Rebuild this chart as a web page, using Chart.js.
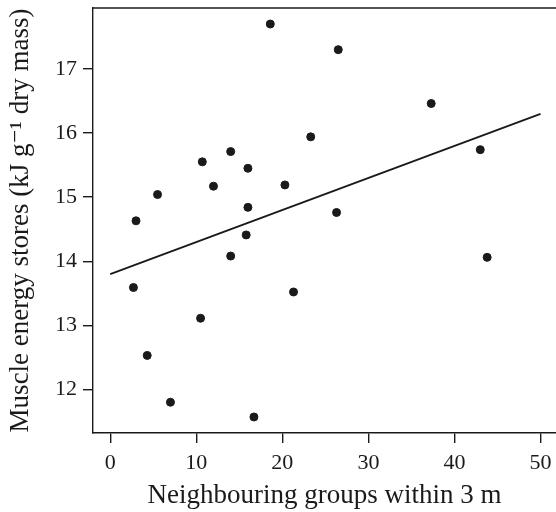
<!DOCTYPE html>
<html>
<head>
<meta charset="utf-8">
<script src="https://cdn.jsdelivr.net/npm/chart.js@4/dist/chart.umd.min.js"></script>
<style>
  html, body { margin: 0; padding: 0; background: #fff; }
  #wrap { width: 556px; height: 512px; }
</style>
</head>
<body>
<div id="wrap"><canvas id="chart" width="556" height="512"></canvas></div>
<script>
// neighbouring groups within 3 m (x) and muscle energy stores (y)
const groupsX = [18.6, 26.5, 37.3, 23.3, 43.0, 10.7, 14.0, 16.0, 3.0, 5.5, 12.0, 20.3, 16.0, 26.3, 15.8, 14.0, 43.8, 2.7, 21.3, 10.5, 4.3, 7.0, 16.7];
const energyY = [17.70, 17.30, 16.46, 15.94, 15.74, 15.55, 15.71, 15.45, 14.63, 15.04, 15.17, 15.19, 14.84, 14.76, 14.41, 14.08, 14.06, 13.59, 13.52, 13.11, 12.53, 11.80, 11.57];

// fitted regression line end points
const fitX = [0, 50];
const fitY = [13.80, 16.30];

const xTicks = [0, 10, 20, 30, 40, 50];
const yTicks = [12, 13, 14, 15, 16, 17];

const serif = "'Liberation Serif', 'DejaVu Serif', serif";
const ink = "#1a1a1a";

// the plot box is open on the right, so only the top edge is added
const topBorder = {
  id: "topBorder",
  afterDraw(chart) {
    const { ctx, chartArea } = chart;
    ctx.save();
    ctx.strokeStyle = ink;
    ctx.lineWidth = 1.4;
    ctx.beginPath();
    ctx.moveTo(chartArea.left, chartArea.top);
    ctx.lineTo(chartArea.right, chartArea.top);
    ctx.stroke();
    ctx.restore();
  },
};

function noPadding(scale) {
  scale.paddingLeft = 0;
  scale.paddingRight = 0;
  scale.paddingTop = 0;
  scale.paddingBottom = 0;
}

new Chart(document.getElementById("chart"), {
  type: "scatter",
  data: {
    datasets: [
      {
        label: "Groups",
        data: groupsX.map((x, i) => ({ x, y: energyY[i] })),
        backgroundColor: ink,
        borderColor: ink,
        pointRadius: 4,
      },
      {
        label: "Fit",
        type: "line",
        data: fitX.map((x, i) => ({ x, y: fitY[i] })),
        borderColor: ink,
        borderWidth: 1.9,
        pointRadius: 0,
        fill: false,
      },
    ],
  },
  options: {
    responsive: false,
    animation: false,
    layout: { autoPadding: false, padding: { top: 8, right: 0, left: 0, bottom: 0 } },
    plugins: { legend: { display: false }, tooltip: { enabled: false } },
    scales: {
      x: {
        type: "linear",
        min: -2,
        max: 51.8,
        afterBuildTicks: (scale) => { scale.ticks = xTicks.map((v) => ({ value: v })); },
        afterFit: (scale) => {
          scale.height = 79;
          noPadding(scale);
        },
        ticks: { color: ink, padding: 7, font: { family: serif, size: 22 } },
        grid: { display: true, drawOnChartArea: false, drawTicks: true, tickLength: 10, color: ink, lineWidth: 1.4 },
        border: { display: true, color: ink, width: 1.4 },
        title: {
          display: true,
          text: "Neighbouring groups within 3 m",
          color: ink,
          padding: { top: 0, bottom: 0 },
          font: { family: serif, size: 27 },
        },
      },
      y: {
        type: "linear",
        min: 11.32,
        max: 17.95,
        afterBuildTicks: (scale) => { scale.ticks = yTicks.map((v) => ({ value: v })); },
        afterFit: (scale) => {
          scale.width = 93;
          noPadding(scale);
        },
        ticks: { color: ink, padding: 6, font: { family: serif, size: 22 } },
        grid: { display: true, drawOnChartArea: false, drawTicks: true, tickLength: 10, color: ink, lineWidth: 1.4 },
        border: { display: true, color: ink, width: 1.4 },
        title: {
          display: true,
          text: "Muscle energy stores (kJ g\u207B\u00B9 dry mass)",
          color: ink,
          padding: { top: 5, bottom: 0 },
          font: { family: serif, size: 27 },
        },
      },
    },
  },
  plugins: [topBorder],
});
</script>
</body>
</html>
